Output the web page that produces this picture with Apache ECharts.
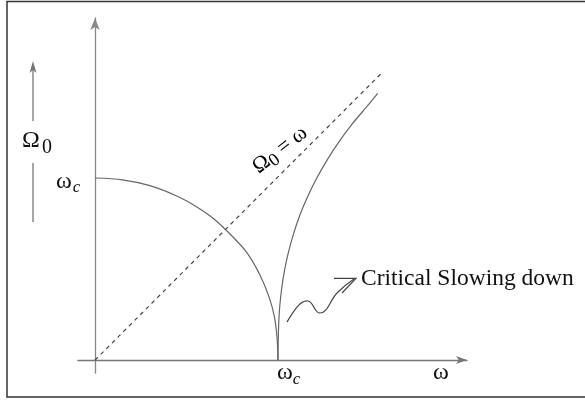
<!DOCTYPE html>
<html>
<head>
<meta charset="utf-8">
<script src="https://cdn.jsdelivr.net/npm/echarts@6/dist/echarts.min.js"></script>
<style>
html,body{margin:0;padding:0;background:#fff;}
#chart{width:585px;height:400px;}
</style>
</head>
<body>
<div id="chart"></div>
<script>
// ---- data (units of omega_c) ----
const xTickValues = [1];
const xTickLabels = [['ω', 'c']];
const yTickValues = [1];
const yTickLabels = [['ω', 'c']];
const xAxisName = 'ω';
const yAxisName = ['Ω', '0'];
const diagLabel = ['Ω', '0', ' = ω'];
const noteText = 'Critical Slowing down';

// lower branch: Omega0 falling from omega_c to 0 at omega = omega_c
const lowerBranchW  = [0, 0.15, 0.3, 0.45, 0.55, 0.65, 0.75, 0.83, 0.9, 0.95, 0.98, 0.995, 1.0];
const lowerBranchO0 = [1.0, 0.99, 0.958, 0.9, 0.845, 0.775, 0.68, 0.59, 0.47, 0.35, 0.24, 0.12, 0];

// upper branch: Omega0 rising from 0 above omega_c
const upperBranchW  = [1.0, 1.001, 1.004, 1.010, 1.021, 1.037, 1.059, 1.087, 1.121, 1.163, 1.212, 1.269, 1.334, 1.408, 1.492, 1.545];
const upperBranchO0 = [0, 0.1, 0.2, 0.3, 0.4, 0.5, 0.6, 0.7, 0.8, 0.9, 1.0, 1.1, 1.2, 1.3, 1.4, 1.465];

// diagonal Omega0 = omega
const diagW  = [0, 1.57];
const diagO0 = [0, 1.58];

const zip = (a, b) => a.map((v, i) => [v, b[i]]);
const serif = '"Liberation Serif","DejaVu Serif",serif';
const INK = '#111';

const chart = echarts.init(document.getElementById('chart'), null, {renderer: 'canvas'});
chart.setOption({
  animation: false,
  backgroundColor: '#fff',
  grid: {left: 78, right: 118, top: 18, bottom: 27},
  xAxis: {
    type: 'value', min: -0.093, max: 2.033,
    axisLine: {onZero: true, symbol: ['none', 'arrow'], symbolSize: [6, 11],
      lineStyle: {color: '#777', width: 1.3}},
    axisTick: {show: false},
    splitLine: {show: false},
    axisLabel: {show: false}
  },
  yAxis: {
    type: 'value', min: -0.071, max: 1.879,
    axisLine: {onZero: true, symbol: ['none', 'arrow'], symbolSize: [7, 12],
      lineStyle: {color: '#888', width: 1.3}},
    axisTick: {show: false},
    splitLine: {show: false},
    axisLabel: {show: false}
  },
  series: [
    {type: 'line', data: zip(lowerBranchW, lowerBranchO0), smooth: 0.3, showSymbol: false,
      lineStyle: {color: '#666', width: 1.2}},
    {type: 'line', data: zip(upperBranchW, upperBranchO0), smooth: 0.3, showSymbol: false,
      lineStyle: {color: '#666', width: 1.2}},
    {type: 'line', data: zip(diagW, diagO0), showSymbol: false,
      lineStyle: {color: '#444', width: 1.2, type: [4, 4]}}
  ]
});

// tick labels placed at the axis positions given by the chart's own scales
const txt = (x, y, text, size, extra) => Object.assign({type: 'text', x: x, y: y, silent: true,
  style: Object.assign({text: text, fontFamily: serif, fontSize: size, fill: INK,
    align: 'center', verticalAlign: 'middle'}, extra || {})});

const g = [];
xTickValues.forEach((v, i) => {
  const p = chart.convertToPixel({gridIndex: 0}, [v, 0]);
  g.push(txt(p[0] + 7, p[1] + 12.5, xTickLabels[i][0], 24));
  g.push(txt(p[0] + 18.5, p[1] + 19, xTickLabels[i][1], 17, {fontStyle: 'italic'}));
});
yTickValues.forEach((v, i) => {
  const p = chart.convertToPixel({gridIndex: 0}, [0, v]);
  g.push(txt(p[0] - 31, p[1] + 4, yTickLabels[i][0], 24));
  g.push(txt(p[0] - 18.5, p[1] + 10, yTickLabels[i][1], 17, {fontStyle: 'italic'}));
});
const xEnd = chart.convertToPixel({gridIndex: 0}, [2.033, 0]);
g.push(txt(xEnd[0] - 26, xEnd[1] + 12.5, xAxisName, 24));

chart.setOption({
  graphic: g.concat([
    {type: 'rect', shape: {x: 7, y: 1.5, width: 600, height: 395.5},
      style: {fill: 'none', stroke: '#333', lineWidth: 1.5}, silent: true},
    // left Omega0 arrow
    {type: 'line', shape: {x1: 33, y1: 121, x2: 33, y2: 68}, style: {stroke: '#777', lineWidth: 1.3}},
    {type: 'polygon', shape: {points: [[33, 61], [29.5, 73], [33, 70], [36.5, 73]]}, style: {fill: '#777'}},
    {type: 'line', shape: {x1: 33, y1: 163, x2: 33, y2: 222}, style: {stroke: '#777', lineWidth: 1.3}},
    txt(31, 141, yAxisName[0], 24),
    txt(47, 148, yAxisName[1], 20),
    // diagonal label
    {type: 'text', x: 280, y: 150, rotation: Math.PI * 38 / 180, style: {
      text: '{a|' + diagLabel[0] + '}{b|' + diagLabel[1] + '}{a|' + diagLabel[2] + '}',
      align: 'center', verticalAlign: 'middle',
      rich: {a: {fontFamily: serif, fontSize: 22, color: INK, lineHeight: 22, verticalAlign: 'middle'},
             b: {fontFamily: serif, fontSize: 18, color: INK, lineHeight: 14, padding: [10, 0, 0, 0], verticalAlign: 'middle'}}}},
    // critical slowing down annotation (wavy arrow)
    {type: 'bezierCurve', shape: {x1: 287, y1: 322, cpx1: 293, cpy1: 312, cpx2: 300, cpy2: 300, x2: 308, y2: 301},
      style: {fill: null, stroke: '#444', lineWidth: 1.2}},
    {type: 'bezierCurve', shape: {x1: 308, y1: 301, cpx1: 314, cpy1: 302, cpx2: 314, cpy2: 313, x2: 320, y2: 313},
      style: {fill: null, stroke: '#444', lineWidth: 1.2}},
    {type: 'bezierCurve', shape: {x1: 320, y1: 313, cpx1: 328, cpy1: 313, cpx2: 330, cpy2: 300, x2: 337, y2: 293},
      style: {fill: null, stroke: '#444', lineWidth: 1.2}},
    {type: 'bezierCurve', shape: {x1: 337, y1: 293, cpx1: 343, cpy1: 287, cpx2: 348, cpy2: 283, x2: 354, y2: 279},
      style: {fill: null, stroke: '#444', lineWidth: 1.2}},
    {type: 'polyline', shape: {points: [[334, 278.3], [356, 278.3], [342, 293]]},
      style: {fill: null, stroke: '#444', lineWidth: 1.2}},
    txt(361, 279, noteText, 23.5, {align: 'left'})
  ])
});
</script>
</body>
</html>
